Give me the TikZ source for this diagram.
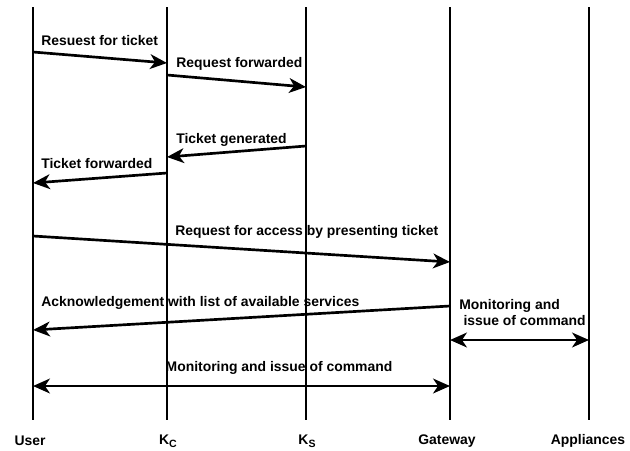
\documentclass[tikz,border=0pt]{standalone}
\usepackage{fontspec}
\setmainfont{Liberation Sans}
\usetikzlibrary{arrows.meta,calc}

\newcommand{\sub}[1]{\raisebox{-0.45ex}{\fontsize{7.5}{8}\selectfont #1}}

\begin{document}
\begin{tikzpicture}[x=0.025cm, y=-0.025cm,
  life/.style={line width=1.3pt},
  tip/.tip={Stealth[length=12pt, width=10.5pt, inset=3.5pt]},
  msg/.style={line width=1.9pt, -tip},
  both/.style={line width=1.9pt, tip-tip},
  lbl/.style={font=\fontsize{9.9}{11.8}\selectfont\bfseries, inner sep=0pt},
]
\useasboundingbox (0,0) rectangle (630,450);

% lifelines
\coordinate (U) at (33,0);
\coordinate (KC) at (167,0);
\coordinate (KS) at (306,0);
\coordinate (GW) at (450,0);
\coordinate (AP) at (589,0);
\foreach \c in {U,KC,KS,GW,AP}
  \draw[life] ($(\c)+(0,7)$) -- ($(\c)+(0,420)$);

% names
\node[lbl] (nU) at ($(U)+(-3,441)$) {User};
\node[lbl] (nKC) at ($(KC)+(1,441)$) {K\sub{C}};
\node[lbl] (nKS) at ($(KS)+(1,441)$) {K\sub{S}};
\node[lbl] (nGW) at ($(GW)+(-3,441)$) {Gateway};
\node[lbl] (nAP) at ($(AP)+(-1,441)$) {Appliances};

% ticket exchange
\draw[msg] ($(U)+(0,52)$) -- ($(KC)+(0,63)$);
\node[lbl, anchor=west] (m1) at ($(U)+(8,41)$) {Resuest for ticket};
\draw[msg] ($(KC)+(0,75)$) -- ($(KS)+(0,87)$);
\node[lbl, anchor=west] (m2) at ($(KC)+(9,64)$) {Request forwarded};
\draw[msg] ($(KS)+(0,146)$) -- ($(KC)+(0,157)$);
\node[lbl, anchor=west] (m3) at ($(KC)+(9,140)$) {Ticket generated};
\draw[msg] ($(KC)+(0,173)$) -- ($(U)+(0,183)$);
\node[lbl, anchor=west] (m4) at ($(U)+(8,164)$) {Ticket forwarded};

% access
\draw[msg] ($(U)+(0,236)$) -- ($(GW)+(0,262)$);
\node[lbl, anchor=west] (m5) at ($(KC)+(8,232)$) {Request for access by presenting ticket};
\draw[msg] ($(GW)+(0,306)$) -- ($(U)+(0,330)$);
\node[lbl, anchor=west] (m6) at ($(U)+(8,303)$) {Acknowledgement with list of available services};

% commands
\draw[both] ($(GW)+(0,340)$) -- ($(AP)+(0,340)$);
\node[lbl, anchor=north west, align=left] (m7) at ($(GW)+(9,299)$) {Monitoring and\\\hspace{3pt}issue of command};
\draw[both] ($(U)+(0,386)$) -- ($(GW)+(0,386)$);
\node[lbl] (m8) at ($(U)+(246,368)$) {Monitoring and issue of command};
\end{tikzpicture}
\end{document}
